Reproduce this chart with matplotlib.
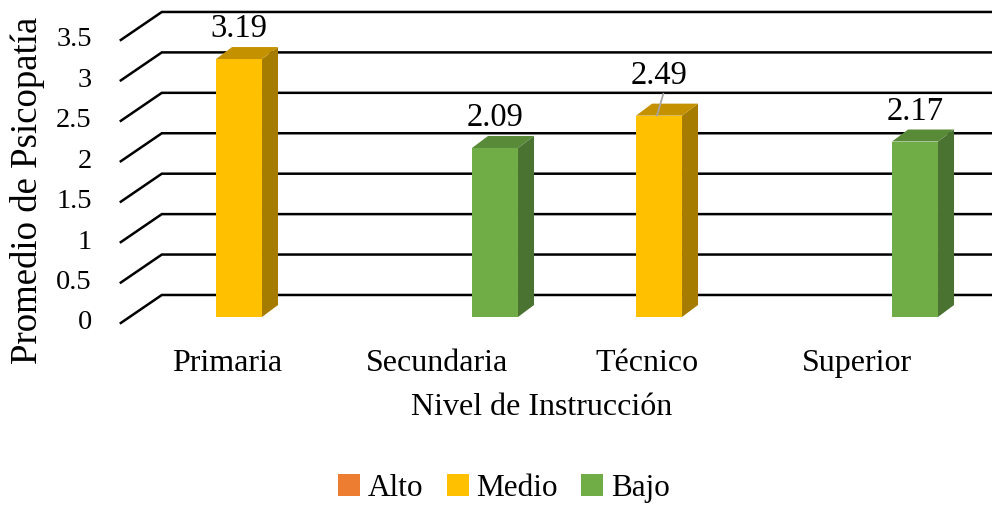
import numpy as np
import matplotlib
matplotlib.use("Agg")
import matplotlib.pyplot as plt
from matplotlib.patches import Polygon, Patch
from matplotlib.transforms import offset_copy

plt.rcParams['font.family'] = ['Liberation Serif', 'DejaVu Serif']

categorias = ["Primaria", "Secundaria", "Técnico", "Superior"]
series = ["Alto", "Medio", "Bajo"]
alto = [np.nan, np.nan, np.nan, np.nan]
medio = [3.19, np.nan, 2.49, np.nan]
bajo = [np.nan, 2.09, np.nan, 2.17]
yticks = [0, 0.5, 1, 1.5, 2, 2.5, 3, 3.5]

colores = {"Alto": ("#ED7D31", "#B85E22", "#D06A28"),
           "Medio": ("#FFC000", "#A67C00", "#C49200"),
           "Bajo": ("#70AD47", "#4A7230", "#588A38")}

fig = plt.figure(figsize=(9.92, 5.07), dpi=100)
ax = fig.add_axes([0.1351, 0.3748, 0.8468, 0.5582])
ax.set_xlim(-0.5, 3.5)
ax.set_ylim(0, 3.5)
ax.axis('off')

def shift(x, y, dxp, dyp):
    # move a data point by a pixel offset, back in data units
    px, py = ax.transData.transform((x, y))
    return ax.transData.inverted().transform((px + dxp, py + dyp))

front = (-9, -6)    # front edge of floor/wall
back = (32, 22)     # back wall
depth = (16, 12)    # depth of the bars
wall_x = -0.52

# gridlines: slanted side wall then back wall
for v in yticks:
    p0 = shift(wall_x, v, *front)
    p1 = shift(wall_x, v, *back)
    p2 = shift(3.7, v, *back)
    ax.plot([p0[0], p1[0], p2[0]], [p0[1], p1[1], p2[1]], color='black',
            lw=1.8, clip_on=False, zorder=1, solid_joinstyle='miter')
    tr = offset_copy(ax.transData, fig=fig, x=front[0] - 29, y=front[1], units='dots')
    ax.text(wall_x, v, f"{v:g}", transform=tr, ha='right', va='center', fontsize=20.5)

w = 0.219
valores = {"Alto": alto, "Medio": medio, "Bajo": bajo}
for j, s in enumerate(series):
    cf, cs, ct = colores[s]
    for i, v in enumerate(valores[s]):
        if np.isnan(v):
            continue
        xc = i + (j - 1) * w
        x0, x1 = xc - w / 2, xc + w / 2
        ax.bar(xc, v, width=w, color=cf, edgecolor='none', zorder=3)
        side = [(x1, 0), (x1, v), tuple(shift(x1, v, *depth)), tuple(shift(x1, 0, *depth))]
        top = [(x0, v), (x1, v), tuple(shift(x1, v, *depth)), tuple(shift(x0, v, *depth))]
        ax.add_patch(Polygon(side, closed=True, facecolor=cs, edgecolor='none', zorder=2.9, clip_on=False))
        ax.add_patch(Polygon(top, closed=True, facecolor=ct, edgecolor='none', zorder=3.1, clip_on=False))
        if categorias[i] == "Técnico":
            ax.annotate(f"{v:.2f}", xy=(xc - 0.01, v), xytext=(2, 40), textcoords='offset pixels',
                        ha='center', va='center', fontsize=23.5, zorder=5,
                        arrowprops=dict(arrowstyle='-', color='#A5A5A5', lw=1.3,
                                        shrinkA=0, shrinkB=0, relpos=(0.6, 0.05)))
        else:
            ax.annotate(f"{v:.2f}", xy=(xc, v), xytext=(0, 30), textcoords='offset pixels',
                        ha='center', va='center', fontsize=23.5, zorder=5)

# category labels and axis titles
tr_cat = offset_copy(ax.transData, fig=fig, x=-12, y=-47, units='dots')
for i, c in enumerate(categorias):
    ax.text(i, 0, c, transform=tr_cat, ha='center', va='center', fontsize=23)
tr_tit = offset_copy(ax.transData, fig=fig, x=-12, y=-91, units='dots')
ax.text(1.5, 0, "Nivel de Instrucción", transform=tr_tit, ha='center', va='center', fontsize=23)
fig.text(28 / 992, 1 - 190 / 507, "Promedio de Psicopatía", rotation=90,
         ha='center', va='center', fontsize=26.5)

handles = [Patch(facecolor=colores[s][0], edgecolor='none', label=s) for s in series]
fig.legend(handles=handles, loc='center', bbox_to_anchor=(0.508, 0.037), ncol=3,
           frameon=False, fontsize=22.5, handlelength=0.7, handleheight=0.7,
           handletextpad=0.25, columnspacing=0.75)

fig.savefig("out.png", dpi=100)
